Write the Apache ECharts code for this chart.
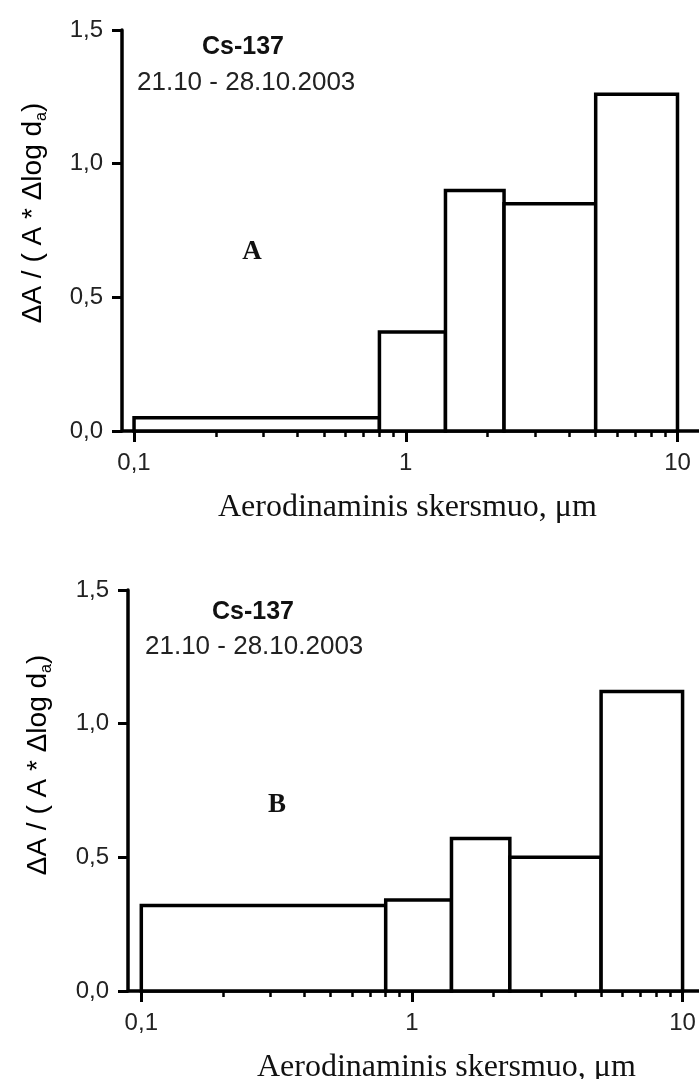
<!DOCTYPE html>
<html>
<head>
<meta charset="utf-8">
<script src="https://cdn.jsdelivr.net/npm/echarts@6/dist/echarts.min.js"></script>
<style>
  html, body { margin: 0; padding: 0; background: #fff; }
  #chart { width: 699px; height: 1079px; }
</style>
</head>
<body>
<div id="chart"></div>
<script>
// bin edges (um), shared by both panels
var binEdges = [0.1, 0.8, 1.4, 2.3, 5, 10];
// panel A / panel B heights
var valuesA = [0.05, 0.37, 0.90, 0.85, 1.26];
var valuesB = [0.32, 0.34, 0.57, 0.50, 1.12];
// axis ticks
var xMajorTicks = [0.1, 1, 10];
var xMinorTicks = [0.2, 0.3, 0.4, 0.5, 0.6, 0.7, 0.8, 0.9, 2, 3, 4, 5, 6, 7, 8, 9];
var yTicks = [0, 0.5, 1, 1.5];
var nuclide = 'Cs-137';
var period = '21.10 - 28.10.2003';
var xTitle = 'Aerodinaminis skersmuo, \u03bcm';
var panelNames = ['A', 'B'];

var SANS = "'Liberation Sans', Arial, sans-serif";
var SERIF = "'Liberation Serif', 'Times New Roman', serif";
var LW = 3.5;

function binData(vals) {
  var out = [];
  for (var i = 0; i < vals.length; i++) {
    out.push([binEdges[i], binEdges[i + 1], vals[i]]);
  }
  return out;
}

function comma(v) {
  return String(v).replace('.', ',');
}

function majorAxis(grid, min, max) {
  return {
    type: 'log', logBase: 10, gridIndex: grid, position: 'bottom',
    min: min, max: max,
    axisLine: { onZero: false, lineStyle: { color: '#000', width: LW } },
    axisTick: { customValues: xMajorTicks, length: 11, lineStyle: { color: '#000', width: 3 } },
    axisLabel: {
      customValues: xMajorTicks, margin: 20, fontSize: 24, fontFamily: SANS, color: '#222',
      formatter: function (v) { return comma(v); }
    },
    splitLine: { show: false }
  };
}

function minorAxis(grid, min, max) {
  return {
    type: 'log', logBase: 10, gridIndex: grid, position: 'bottom',
    min: min, max: max,
    axisLine: { show: false },
    axisTick: { customValues: xMinorTicks, length: 6, lineStyle: { color: '#000', width: 2.5 } },
    axisLabel: { show: false },
    splitLine: { show: false }
  };
}

function valueAxis(grid) {
  return {
    type: 'value', gridIndex: grid, min: 0, max: 1.5, interval: 0.5,
    axisLine: { show: true, onZero: false, lineStyle: { color: '#000', width: LW } },
    axisTick: { show: true, length: 10, lineStyle: { color: '#000', width: 3 } },
    axisLabel: {
      margin: 19, fontSize: 24, fontFamily: SANS, color: '#222',
      formatter: function (v) { return comma(v.toFixed(1)); }
    },
    splitLine: { show: false }
  };
}

function renderBin(params, api) {
  var top = api.coord([api.value(0), api.value(2)]);
  var base = api.coord([api.value(1), 0]);
  return {
    type: 'rect',
    shape: { x: top[0], y: top[1], width: base[0] - top[0], height: base[1] - top[1] },
    style: { fill: '#fff', stroke: '#000', lineWidth: LW }
  };
}

function binSeries(axisIdx, vals) {
  return {
    type: 'custom', xAxisIndex: axisIdx, yAxisIndex: axisIdx / 2,
    renderItem: renderBin,
    encode: { x: [0, 1], y: 2 },
    data: binData(vals),
    z: 1
  };
}

var yTitleRich = {
  n: { fontSize: 28, fontFamily: SANS, color: '#222' },
  s: { fontSize: 16, fontFamily: SANS, color: '#222', verticalAlign: 'bottom', padding: [18, 0, 0, 0] }
};

function panelTexts(o) {
  return [
    { type: 'text', x: o.csX, y: o.csY, style: { text: nuclide, font: 'bold 25px ' + SANS, fill: '#111', align: 'center', verticalAlign: 'middle' } },
    { type: 'text', x: o.dateX, y: o.dateY, style: { text: period, font: '26px ' + SANS, fill: '#222', align: 'left', verticalAlign: 'middle' } },
    { type: 'text', x: o.nameX, y: o.nameY, style: { text: o.name, font: 'bold 27px ' + SERIF, fill: '#111', align: 'center', verticalAlign: 'middle' } },
    { type: 'text', x: o.xtX, y: o.xtY, style: { text: xTitle, font: '32px ' + SERIF, fill: '#111', align: 'left', verticalAlign: 'middle' } },
    { type: 'text', x: o.ytX, y: o.ytY, rotation: Math.PI / 2,
      style: { text: '{n|\u0394A / ( A * \u0394log d}{s|a}{n|)}', rich: yTitleRich, align: 'center', verticalAlign: 'middle' } }
  ];
}

var chart = echarts.init(document.getElementById('chart'));

chart.setOption({
  backgroundColor: '#fff',
  animation: false,
  grid: [
    { left: 122, top: 30, width: 577, height: 401 },
    { left: 128, top: 590, width: 571, height: 401 }
  ],
  xAxis: [
    majorAxis(0, 0.0903, 12.0),
    minorAxis(0, 0.0903, 12.0),
    majorAxis(1, 0.0893, 11.5),
    minorAxis(1, 0.0893, 11.5)
  ],
  yAxis: [valueAxis(0), valueAxis(1)],
  series: [binSeries(0, valuesA), binSeries(2, valuesB)],
  graphic: panelTexts({ csX: 243, csY: 47, dateX: 137, dateY: 83, name: panelNames[0], nameX: 252, nameY: 252,
                        xtX: 218, xtY: 508, ytX: 33, ytY: 213 })
    .concat(panelTexts({ csX: 253, csY: 612, dateX: 145, dateY: 647, name: panelNames[1], nameX: 277, nameY: 805,
                         xtX: 257, xtY: 1068, ytX: 38, ytY: 765 }))
});
</script>
</body>
</html>
